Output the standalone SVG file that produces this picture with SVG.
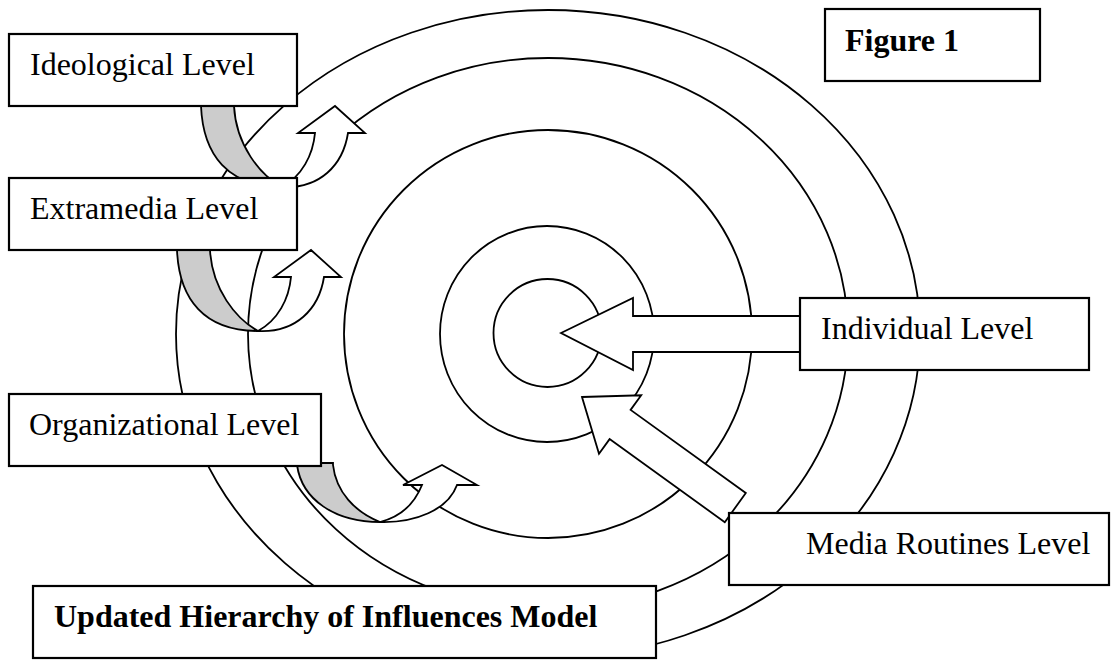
<svg xmlns="http://www.w3.org/2000/svg" width="1112" height="660" viewBox="0 0 1112 660">
<style>
.ring{fill:none;stroke:#000;stroke-width:1.8}
.box{fill:#fff;stroke:#000;stroke-width:2.2}
.lbl{font-family:"Liberation Serif","Times New Roman",serif;font-size:32px;fill:#000}
.bold{font-weight:bold}
.arrow{fill:#fff;stroke:#000;stroke-width:1.8;stroke-linejoin:miter}
.back{fill:#cccccc;stroke:#000;stroke-width:1.8}
</style>
<rect width="1112" height="660" fill="#fff"/>
<g id="rings">
<ellipse class="ring" cx="548" cy="334" rx="372" ry="324"/>
<ellipse class="ring" cx="548" cy="334" rx="300" ry="276"/>
<ellipse class="ring" cx="548" cy="334" rx="204" ry="204"/>
<ellipse class="ring" cx="547" cy="334" rx="107" ry="108"/>
<circle class="ring" cx="547.5" cy="333" r="54"/>
</g>
<g id="connectors">
<polygon class="arrow" points="561,333 633,298 633,316 805,316 805,352 633,352 633,370"/>
<polygon class="arrow" points="582,397 641.2,395.3 630.6,409.9 745.8,493 724.8,522.2 609.6,439.1 599,453.7"/>
<g id="uturn-ideological">
<path class="back" d="M201,104 L201,106 C203,155 228,187 282,187 C260,175 236,145 234,106 L234,104 Z"/>
<path class="arrow" d="M282,187 C320,189 343,165 348,133 L365,133 L335,106 L298,133 L315,133 C313,155 302,176 282,187 Z"/>
</g>
<g id="uturn-extramedia" transform="translate(-24,144)">
<path class="back" d="M201,104 L201,106 C203,155 228,187 282,187 C260,175 236,145 234,106 L234,104 Z"/>
<path class="arrow" d="M282,187 C320,189 343,165 348,133 L365,133 L335,106 L298,133 L315,133 C313,155 302,176 282,187 Z"/>
</g>
<g id="uturn-organizational">
<path class="back" d="M297,463 L297,465 C302,500 335,522 380,522 C355,512 336,492 333,465 L333,463 Z"/>
<path class="arrow" d="M380,522 C415,523 448,510 457,485 L477,485 L442,465 L403,485 L422,485 C414,505 400,517 380,522 Z"/>
</g>
</g>
<g id="ideological">
<rect class="box" x="9" y="34" width="288" height="72"/>
<text class="lbl" x="30" y="75">Ideological Level</text>
</g>
<g id="extramedia">
<rect class="box" x="9" y="178" width="288" height="72"/>
<text class="lbl" x="30" y="219">Extramedia Level</text>
</g>
<g id="organizational">
<rect class="box" x="9" y="394" width="312" height="72"/>
<text class="lbl" x="29" y="435">Organizational Level</text>
</g>
<g id="individual">
<rect class="box" x="800" y="298" width="289" height="72"/>
<text class="lbl" x="821" y="339">Individual Level</text>
</g>
<g id="media-routines">
<rect class="box" x="729" y="513" width="380" height="72"/>
<text class="lbl" x="806" y="554">Media Routines Level</text>
</g>
<g id="title">
<rect class="box" x="33" y="586" width="623" height="72"/>
<text class="lbl bold" x="54" y="627">Updated Hierarchy of Influences Model</text>
</g>
<g id="figure1">
<rect class="box" x="825" y="9" width="215" height="72"/>
<text class="lbl bold" x="845" y="51">Figure 1</text>
</g>
</svg>
